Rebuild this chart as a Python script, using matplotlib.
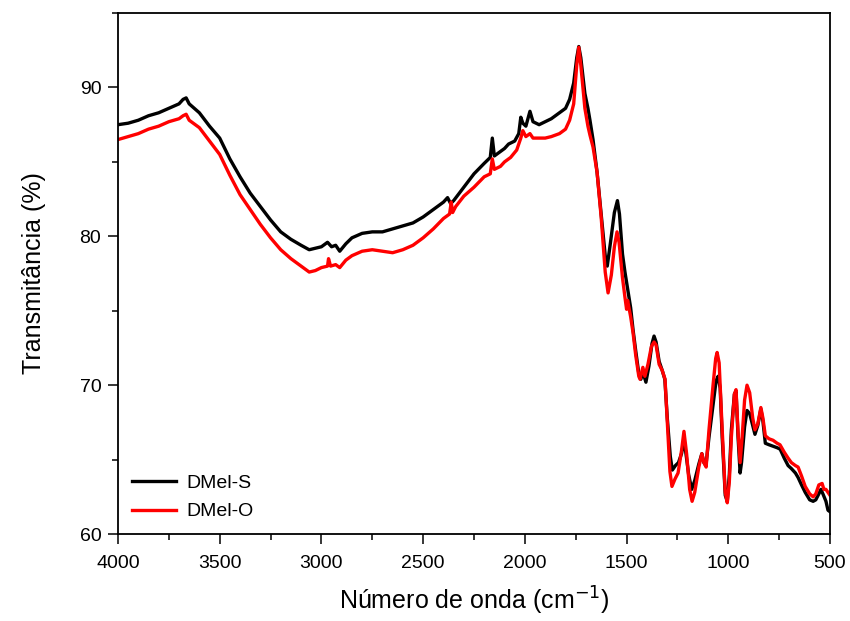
import matplotlib.pyplot as plt
from matplotlib.ticker import MultipleLocator

plt.rcParams['font.family'] = ['Liberation Sans', 'DejaVu Sans']

# DMel-S (black)
wn_s = [4000, 3950, 3900, 3850, 3800, 3750, 3700, 3680, 3665, 3650, 3600, 3550, 3500, 3450, 3400,
        3350, 3300, 3250, 3200, 3150, 3100, 3060, 3030, 3000, 2970, 2950, 2930, 2910, 2880, 2850,
        2800, 2750, 2700, 2650, 2600, 2550, 2500, 2450, 2400, 2380, 2365, 2350, 2300, 2250, 2200,
        2170, 2160, 2150, 2120, 2100, 2080, 2050, 2030, 2020, 2010, 1995, 1975, 1960, 1930, 1900,
        1870, 1830, 1800, 1780, 1760, 1745, 1735, 1725, 1705, 1690, 1680, 1665, 1645, 1625, 1605,
        1595, 1580, 1560, 1545, 1535, 1520, 1508, 1495, 1480, 1468, 1455, 1440, 1430, 1420, 1405,
        1390, 1375, 1365, 1355, 1340, 1325, 1312, 1300, 1285, 1275, 1260, 1245, 1230, 1220, 1210,
        1195, 1180, 1165, 1145, 1130, 1120, 1110, 1095, 1075, 1060, 1050, 1040, 1030, 1015, 1005,
        995, 985, 970, 962, 952, 942, 935, 920, 908, 895, 880, 869, 855, 840, 830,
        818, 800, 780, 760, 745, 725, 706, 690, 670, 657, 640, 622, 600, 583, 570,
        555, 545, 535, 520, 510, 500]
t_s = [87.5, 87.6, 87.8, 88.1, 88.3, 88.6, 88.9, 89.2, 89.3, 88.9, 88.3, 87.4, 86.6, 85.2, 84.0,
       82.9, 82.0, 81.1, 80.3, 79.8, 79.4, 79.1, 79.2, 79.3, 79.6, 79.3, 79.4, 79.0, 79.5, 79.9,
       80.2, 80.3, 80.3, 80.5, 80.7, 80.9, 81.3, 81.8, 82.3, 82.6, 82.2, 82.4, 83.3, 84.2, 84.9,
       85.3, 86.6, 85.4, 85.7, 85.9, 86.2, 86.4, 86.9, 88.0, 87.6, 87.4, 88.4, 87.7, 87.5, 87.7,
       87.9, 88.3, 88.6, 89.2, 90.3, 92.0, 92.75, 92.0, 89.6, 88.6, 87.8, 86.5, 84.3, 81.5, 78.7,
       78.0, 79.5, 81.6, 82.4, 81.5, 78.8, 77.6, 76.5, 75.2, 73.7, 72.3, 70.8, 70.4, 70.9, 70.2,
       71.3, 72.8, 73.3, 72.9, 71.6, 71.0, 70.4, 67.8, 65.2, 64.3, 64.6, 64.8, 65.4, 66.1, 65.6,
       64.0, 63.0, 63.6, 64.7, 65.4, 64.8, 64.6, 66.5, 68.7, 70.3, 70.6, 69.8, 66.5, 62.6, 62.2,
       64.0, 67.0, 69.4, 69.6, 66.5, 64.1, 64.8, 67.2, 68.3, 68.1, 67.3, 66.7, 67.3, 68.4, 67.6,
       66.1, 66.0, 65.9, 65.8, 65.7, 65.1, 64.6, 64.4, 64.1, 63.8, 63.3, 62.8, 62.3, 62.2, 62.3,
       62.7, 63.0, 62.7, 62.2, 61.6, 61.5]

# DMel-O (red)
wn_o = [4000, 3950, 3900, 3850, 3800, 3750, 3700, 3680, 3665, 3650, 3600, 3550, 3500, 3450, 3400,
        3350, 3300, 3250, 3200, 3150, 3100, 3060, 3030, 3000, 2970, 2965, 2955, 2930, 2910, 2880,
        2850, 2800, 2750, 2700, 2650, 2600, 2550, 2500, 2450, 2400, 2370, 2362, 2355, 2340, 2300,
        2250, 2200, 2170, 2160, 2150, 2120, 2100, 2070, 2040, 2020, 2010, 1995, 1975, 1960, 1930,
        1900, 1870, 1830, 1800, 1780, 1760, 1745, 1735, 1725, 1705, 1690, 1680, 1665, 1645, 1625,
        1605, 1591, 1575, 1560, 1547, 1537, 1520, 1508, 1500, 1495, 1480, 1468, 1455, 1440, 1434,
        1420, 1410, 1395, 1378, 1365, 1355, 1340, 1325, 1311, 1300, 1287, 1277, 1262, 1247, 1230,
        1218, 1205, 1190, 1178, 1165, 1145, 1130, 1120, 1109, 1095, 1075, 1062, 1055, 1045, 1030,
        1015, 1005, 995, 985, 970, 962, 952, 942, 932, 920, 908, 895, 880, 869, 855,
        840, 830, 818, 800, 780, 760, 746, 725, 706, 690, 670, 657, 640, 622, 600,
        583, 570, 555, 539, 530, 520, 510, 500]
t_o = [86.5, 86.7, 86.9, 87.2, 87.4, 87.7, 87.9, 88.1, 88.2, 87.8, 87.3, 86.4, 85.5, 84.1, 82.8,
       81.8, 80.8, 79.9, 79.1, 78.5, 78.0, 77.6, 77.7, 77.9, 78.0, 78.5, 78.0, 78.1, 77.9, 78.4,
       78.7, 79.0, 79.1, 79.0, 78.9, 79.1, 79.4, 79.9, 80.5, 81.2, 81.5, 82.3, 81.6, 82.0, 82.7,
       83.3, 84.0, 84.2, 85.2, 84.5, 84.7, 85.0, 85.3, 85.8, 86.6, 87.1, 86.7, 86.9, 86.6, 86.6,
       86.6, 86.7, 86.9, 87.2, 87.8, 88.9, 91.5, 92.7, 91.5, 88.6, 87.4, 86.8, 86.0, 84.3, 81.3,
       77.6, 76.2, 77.4, 79.3, 80.3, 79.6, 77.2, 75.9, 75.1, 75.7, 74.6, 73.5, 72.0, 70.6, 70.4,
       71.2, 70.6, 71.4, 72.6, 72.9, 72.7, 71.4, 71.0, 70.4, 67.5, 64.2, 63.2, 63.7, 64.1, 65.6,
       66.9, 65.4, 63.0, 62.2, 62.8, 64.5, 65.4, 64.8, 64.5, 67.0, 70.0, 71.8, 72.2, 71.5, 67.0,
       62.8, 62.1, 63.5, 66.5, 69.4, 69.7, 66.8, 64.8, 66.5, 69.0, 70.0, 69.5, 67.8, 67.0, 67.4,
       68.5, 67.8, 66.6, 66.4, 66.3, 66.1, 66.0, 65.5, 65.1, 64.8, 64.6, 64.5, 63.9, 63.2, 62.7,
       62.5, 62.7, 63.3, 63.4, 63.0, 63.0, 62.8, 62.6]

fig = plt.figure(figsize=(8.5, 6.21), dpi=100)
ax = fig.add_axes([0.1388, 0.140, 0.8377, 0.839])

ax.plot(wn_s, t_s, color='black', linewidth=2.4, label='DMel-S')
ax.plot(wn_o, t_o, color='#ff0000', linewidth=2.4, label='DMel-O')

ax.set_xlim(4000, 500)
ax.set_ylim(60, 95)
ax.xaxis.set_major_locator(MultipleLocator(500))
ax.xaxis.set_minor_locator(MultipleLocator(250))
ax.yaxis.set_major_locator(MultipleLocator(10))
ax.yaxis.set_minor_locator(MultipleLocator(5))
ax.tick_params(which='major', direction='out', length=7, width=1.1, labelsize=14, pad=5)
ax.tick_params(axis='x', which='major', pad=8)
ax.tick_params(which='minor', direction='out', length=4, width=1.1)
for s in ax.spines.values():
    s.set_linewidth(1.3)

ax.set_xlabel('Número de onda (cm$^{-1}$)', fontsize=18, labelpad=9)
ax.set_ylabel('Transmitância (%)', fontsize=18, labelpad=24)

ax.legend(loc='lower left', frameon=False, fontsize=14, handlelength=2.3,
          handletextpad=0.5, labelspacing=0.55, borderaxespad=0.3)

fig.savefig('out.png', dpi=100)
